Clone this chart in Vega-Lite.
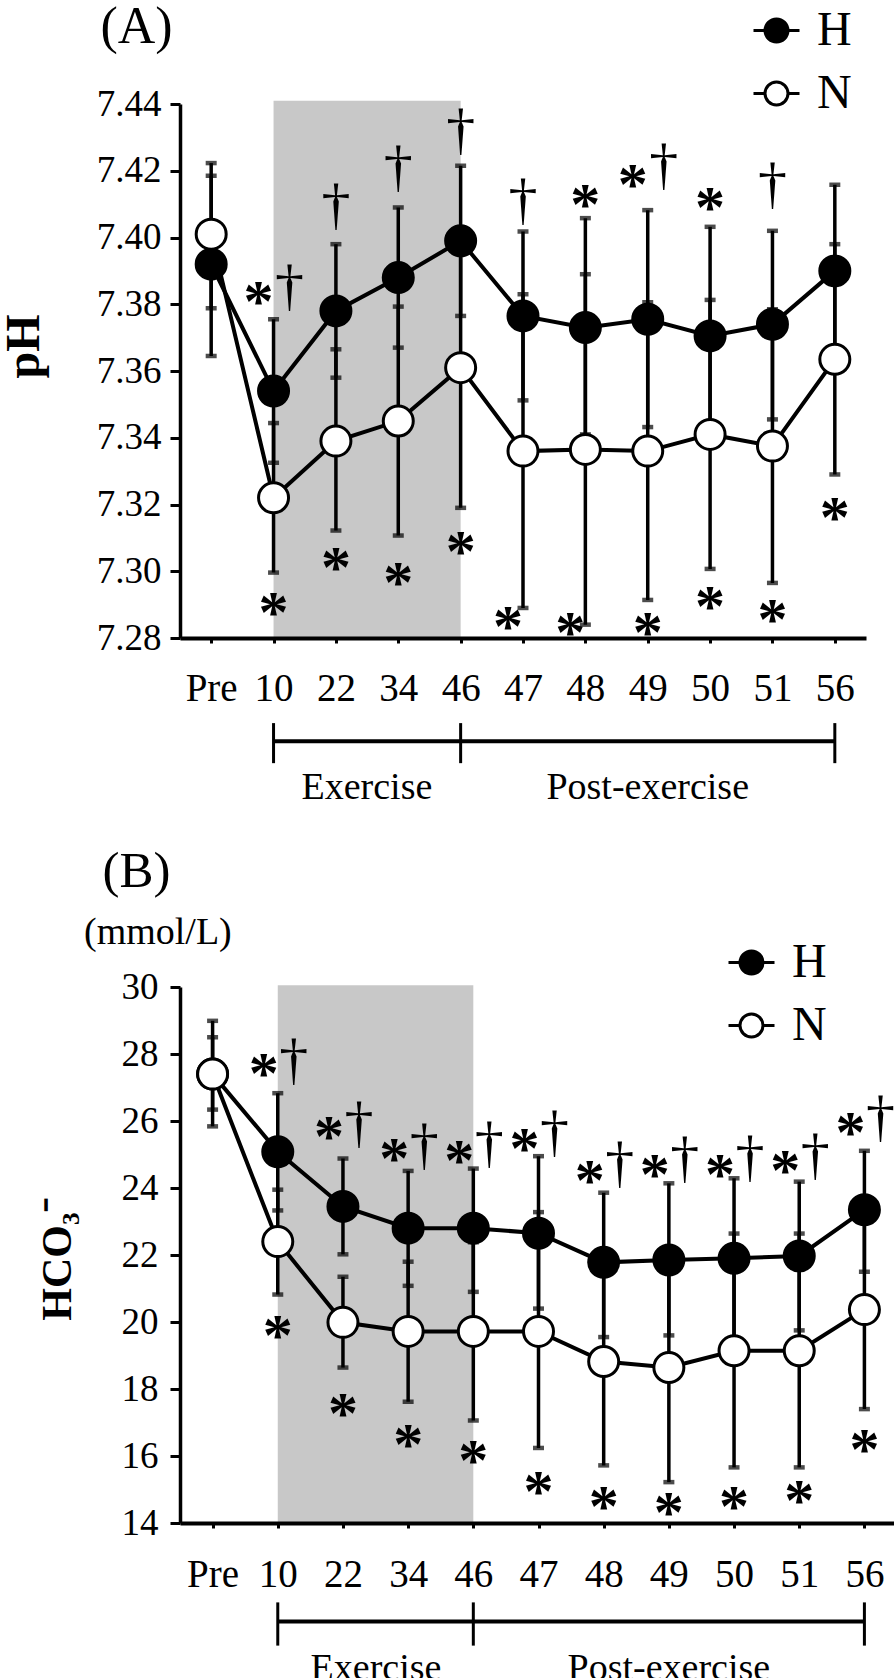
{
  "$schema": "https://vega.github.io/schema/vega-lite/v6.json",
  "padding": {"left": 0, "top": 0, "right": 0, "bottom": 0},
  "bounds": "flush",
  "spacing": 349,
  "config": {
    "view": {"stroke": null},
    "font": "Liberation Serif",
    "axis": {"grid": false, "labelFont": "Liberation Serif", "titleFont": "Liberation Serif", "labelColor": "black", "titleColor": "black", "domainColor": "black", "tickColor": "black"},
    "legend": {"labelFont": "Liberation Serif", "labelColor": "black"}
  },
  "resolve": {"scale": {"x": "independent", "y": "independent", "fill": "independent"}, "legend": {"fill": "independent"}},
  "vconcat": [
    {
      "width": 686,
      "height": 534,
      "layer": [
        {
          "data": {"values": [{"a": "10", "b": "46", "lo": 7.28, "hi": 7.441}]},
          "mark": {"type": "rect", "color": "#c8c8c8"},
          "encoding": {
            "x": {"field": "a", "type": "nominal", "scale": {"type": "point", "padding": 0.5, "domain": ["Pre","10","22","34","46","47","48","49","50","51","56"]},
              "axis": {"title": "(A)", "titleX": -80, "titleY": -596, "titleAlign": "left", "titleBaseline": "alphabetic", "titleFontSize": 52, "titleFontWeight": "normal", "labelAngle": 0, "labelFontSize": 39, "labelPadding": 26, "tickSize": 5, "tickWidth": 3, "domainWidth": 4}},
            "x2": {"field": "b"},
            "y": {"field": "lo", "type": "quantitative", "scale": {"domain": [7.28, 7.44], "nice": false, "zero": false},
              "axis": {"title": "pH", "titleX": -142, "titleY": 242, "titleAngle": -90, "titleAlign": "center", "titleBaseline": "alphabetic", "titleFontSize": 48, "titleFontWeight": "bold", "values": [7.28,7.30,7.32,7.34,7.36,7.38,7.40,7.42,7.44], "format": ".2f", "labelFontSize": 37, "labelPadding": 9, "tickSize": 10, "tickWidth": 3, "domainWidth": 3.5}},
            "y2": {"field": "hi"}
          }
        },
        {
          "data": {"name": "phA"},
          "mark": {"type": "rule", "color": "black", "strokeWidth": 3.5},
          "encoding": {"x": {"field": "t", "type": "nominal"}, "y": {"field": "lo", "type": "quantitative"}, "y2": {"field": "hi"}}
        },
        {
          "data": {"name": "phA"},
          "mark": {"type": "tick", "color": "black", "orient": "horizontal", "size": 11, "thickness": 4.5},
          "encoding": {"x": {"field": "t", "type": "nominal"}, "y": {"field": "lo", "type": "quantitative"}}
        },
        {
          "data": {"name": "phA"},
          "mark": {"type": "tick", "color": "black", "orient": "horizontal", "size": 11, "thickness": 4.5},
          "encoding": {"x": {"field": "t", "type": "nominal"}, "y": {"field": "hi", "type": "quantitative"}}
        },
        {
          "data": {"name": "phA"},
          "mark": {"type": "line", "color": "black", "strokeWidth": 4},
          "encoding": {"x": {"field": "t", "type": "nominal"}, "y": {"field": "m", "type": "quantitative"}, "detail": {"field": "s"}}
        },
        {
          "data": {"name": "phA"},
          "mark": {"type": "point", "shape": "circle", "filled": true, "size": 900, "stroke": "black", "strokeWidth": 3, "opacity": 1},
          "encoding": {
            "x": {"field": "t", "type": "nominal"},
            "y": {"field": "m", "type": "quantitative"},
            "order": {"field": "o"},
            "fill": {"field": "s", "type": "nominal", "scale": {"domain": ["H", "N"], "range": ["black", "white"]},
              "legend": {"title": null, "orient": "none", "legendX": 572, "legendY": -98, "padding": 0, "symbolType": "M-1,0L-0.5,0M0.5,0L1,0M-0.5,0A0.5,0.5,0,1,0,0.5,0A0.5,0.5,0,1,0,-0.5,0Z", "symbolSize": 2116, "symbolStrokeColor": "black", "symbolStrokeWidth": 3, "symbolOpacity": 1, "labelFontSize": 48, "labelOffset": 16, "rowPadding": 14}}
          }
        },
        {
          "data": {"name": "annA"},
          "transform": [{"filter": "datum.k == '*' && datum.p == 'L'"}],
          "mark": {"type": "text", "font": "Liberation Serif", "fontWeight": "bold", "fontSize": 60, "baseline": "alphabetic", "dy": 30, "dx": -15},
          "encoding": {"x": {"field": "t", "type": "nominal"}, "y": {"field": "v", "type": "quantitative"}, "text": {"field": "k"}}
        },
        {
          "data": {"name": "annA"},
          "transform": [{"filter": "datum.k == '*' && datum.p == 'C'"}],
          "mark": {"type": "text", "font": "Liberation Serif", "fontWeight": "bold", "fontSize": 60, "baseline": "alphabetic", "dy": 30},
          "encoding": {"x": {"field": "t", "type": "nominal"}, "y": {"field": "v", "type": "quantitative"}, "text": {"field": "k"}}
        },
        {
          "data": {"name": "annA"},
          "transform": [{"filter": "datum.k == '†' && datum.p == 'R'"}],
          "mark": {"type": "text", "font": "Liberation Serif", "fontSize": 58, "baseline": "alphabetic", "dy": 16, "dx": 16},
          "encoding": {"x": {"field": "t", "type": "nominal"}, "y": {"field": "v", "type": "quantitative"}, "text": {"field": "k"}}
        },
        {
          "data": {"name": "annA"},
          "transform": [{"filter": "datum.k == '†' && datum.p == 'C'"}],
          "mark": {"type": "text", "font": "Liberation Serif", "fontSize": 58, "baseline": "alphabetic", "dy": 16},
          "encoding": {"x": {"field": "t", "type": "nominal"}, "y": {"field": "v", "type": "quantitative"}, "text": {"field": "k"}}
        },
        {
          "data": {"values": [{"a": "10", "b": "56", "y": 7.2491}]},
          "mark": {"type": "rule", "color": "black", "strokeWidth": 4},
          "encoding": {"x": {"field": "a", "type": "nominal"}, "x2": {"field": "b"}, "y": {"field": "y", "type": "quantitative"}}
        },
        {
          "data": {"values": [{"a": "10", "y1": 7.2545, "y2": 7.2425}, {"a": "46", "y1": 7.2545, "y2": 7.2425}, {"a": "56", "y1": 7.2545, "y2": 7.2425}]},
          "mark": {"type": "rule", "color": "black", "strokeWidth": 3},
          "encoding": {"x": {"field": "a", "type": "nominal"}, "y": {"field": "y1", "type": "quantitative"}, "y2": {"field": "y2"}}
        },
        {
          "data": {"values": [{"a": "22", "lab": "Exercise", "y": 7.2318}]},
          "mark": {"type": "text", "fontSize": 38, "baseline": "alphabetic", "dx": 31, "font": "Liberation Serif"},
          "encoding": {"x": {"field": "a", "type": "nominal"}, "y": {"field": "y", "type": "quantitative"}, "text": {"field": "lab"}}
        },
        {
          "data": {"values": [{"a": "49", "lab": "Post-exercise", "y": 7.2318}]},
          "mark": {"type": "text", "fontSize": 38, "baseline": "alphabetic", "font": "Liberation Serif"},
          "encoding": {"x": {"field": "a", "type": "nominal"}, "y": {"field": "y", "type": "quantitative"}, "text": {"field": "lab"}}
        }
      ]
    },
    {
      "width": 717,
      "height": 536,
      "title": {"text": "(mmol/L)", "anchor": "start", "frame": "group", "dx": -96, "dy": 143, "fontSize": 38, "fontWeight": "normal", "font": "Liberation Serif", "offset": 36, "color": "black"},
      "layer": [
        {
          "data": {"values": [{"a": "10", "b": "46", "lo": 14, "hi": 30.05}]},
          "mark": {"type": "rect", "color": "#c8c8c8"},
          "encoding": {
            "x": {"field": "a", "type": "nominal", "scale": {"type": "point", "padding": 0.5, "domain": ["Pre","10","22","34","46","47","48","49","50","51","56"]},
              "axis": {"title": "(B)", "titleX": -78, "titleY": -637, "titleAlign": "left", "titleBaseline": "alphabetic", "titleFontSize": 51, "titleFontWeight": "normal", "labelAngle": 0, "labelFontSize": 39, "labelPadding": 27, "tickSize": 5, "tickWidth": 3, "domainWidth": 4}},
            "x2": {"field": "b"},
            "y": {"field": "lo", "type": "quantitative", "scale": {"domain": [14, 30], "nice": false, "zero": false},
              "axis": {"title": "HCO₃⁻", "titleX": -110, "titleY": 272, "titleAngle": -90, "titleAlign": "center", "titleBaseline": "alphabetic", "titleFontSize": 42, "titleFontWeight": "bold", "values": [14,16,18,20,22,24,26,28,30], "labelFontSize": 37, "labelPadding": 12, "tickSize": 10, "tickWidth": 3, "domainWidth": 3.5}},
            "y2": {"field": "hi"}
          }
        },
        {
          "data": {"name": "hcB"},
          "mark": {"type": "rule", "color": "black", "strokeWidth": 3.5},
          "encoding": {"x": {"field": "t", "type": "nominal"}, "y": {"field": "lo", "type": "quantitative"}, "y2": {"field": "hi"}}
        },
        {
          "data": {"name": "hcB"},
          "mark": {"type": "tick", "color": "black", "orient": "horizontal", "size": 11, "thickness": 4.5},
          "encoding": {"x": {"field": "t", "type": "nominal"}, "y": {"field": "lo", "type": "quantitative"}}
        },
        {
          "data": {"name": "hcB"},
          "mark": {"type": "tick", "color": "black", "orient": "horizontal", "size": 11, "thickness": 4.5},
          "encoding": {"x": {"field": "t", "type": "nominal"}, "y": {"field": "hi", "type": "quantitative"}}
        },
        {
          "data": {"name": "hcB"},
          "mark": {"type": "line", "color": "black", "strokeWidth": 4},
          "encoding": {"x": {"field": "t", "type": "nominal"}, "y": {"field": "m", "type": "quantitative"}, "detail": {"field": "s"}}
        },
        {
          "data": {"name": "hcB"},
          "mark": {"type": "point", "shape": "circle", "filled": true, "size": 900, "stroke": "black", "strokeWidth": 3, "opacity": 1},
          "encoding": {
            "x": {"field": "t", "type": "nominal"},
            "y": {"field": "m", "type": "quantitative"},
            "order": {"field": "o"},
            "fill": {"field": "s", "type": "nominal", "scale": {"domain": ["H", "N"], "range": ["black", "white"]},
              "legend": {"title": null, "orient": "none", "legendX": 547, "legendY": -49, "padding": 0, "symbolType": "M-1,0L-0.5,0M0.5,0L1,0M-0.5,0A0.5,0.5,0,1,0,0.5,0A0.5,0.5,0,1,0,-0.5,0Z", "symbolSize": 2116, "symbolStrokeColor": "black", "symbolStrokeWidth": 3, "symbolOpacity": 1, "labelFontSize": 48, "labelOffset": 16, "rowPadding": 14}}
          }
        },
        {
          "data": {"name": "annB"},
          "transform": [{"filter": "datum.k == '*' && datum.p == 'L'"}],
          "mark": {"type": "text", "font": "Liberation Serif", "fontWeight": "bold", "fontSize": 60, "baseline": "alphabetic", "dy": 30, "dx": -14},
          "encoding": {"x": {"field": "t", "type": "nominal"}, "y": {"field": "v", "type": "quantitative"}, "text": {"field": "k"}}
        },
        {
          "data": {"name": "annB"},
          "transform": [{"filter": "datum.k == '*' && datum.p == 'C'"}],
          "mark": {"type": "text", "font": "Liberation Serif", "fontWeight": "bold", "fontSize": 60, "baseline": "alphabetic", "dy": 30},
          "encoding": {"x": {"field": "t", "type": "nominal"}, "y": {"field": "v", "type": "quantitative"}, "text": {"field": "k"}}
        },
        {
          "data": {"name": "annB"},
          "transform": [{"filter": "datum.k == '†' && datum.p == 'R'"}],
          "mark": {"type": "text", "font": "Liberation Serif", "fontSize": 58, "baseline": "alphabetic", "dy": 16, "dx": 16},
          "encoding": {"x": {"field": "t", "type": "nominal"}, "y": {"field": "v", "type": "quantitative"}, "text": {"field": "k"}}
        },
        {
          "data": {"values": [{"a": "10", "b": "56", "y": 11.06}]},
          "mark": {"type": "rule", "color": "black", "strokeWidth": 4},
          "encoding": {"x": {"field": "a", "type": "nominal"}, "x2": {"field": "b"}, "y": {"field": "y", "type": "quantitative"}}
        },
        {
          "data": {"values": [{"a": "10", "y1": 11.63, "y2": 10.34}, {"a": "46", "y1": 11.63, "y2": 10.34}, {"a": "56", "y1": 11.63, "y2": 10.34}]},
          "mark": {"type": "rule", "color": "black", "strokeWidth": 3},
          "encoding": {"x": {"field": "a", "type": "nominal"}, "y": {"field": "y1", "type": "quantitative"}, "y2": {"field": "y2"}}
        },
        {
          "data": {"values": [{"a": "22", "lab": "Exercise", "y": 9.3}]},
          "mark": {"type": "text", "fontSize": 38, "baseline": "alphabetic", "dx": 33, "font": "Liberation Serif"},
          "encoding": {"x": {"field": "a", "type": "nominal"}, "y": {"field": "y", "type": "quantitative"}, "text": {"field": "lab"}}
        },
        {
          "data": {"values": [{"a": "49", "lab": "Post-exercise", "y": 9.3}]},
          "mark": {"type": "text", "fontSize": 38, "baseline": "alphabetic", "font": "Liberation Serif"},
          "encoding": {"x": {"field": "a", "type": "nominal"}, "y": {"field": "y", "type": "quantitative"}, "text": {"field": "lab"}}
        }
      ]
    }
  ],
  "datasets": {
    "phA": [
      {"t": "Pre", "s": "H", "o": 1, "m": 7.392, "lo": 7.3645, "hi": 7.4185},
      {"t": "10", "s": "H", "o": 1, "m": 7.354, "lo": 7.3325, "hi": 7.3755},
      {"t": "22", "s": "H", "o": 1, "m": 7.378, "lo": 7.358, "hi": 7.398},
      {"t": "34", "s": "H", "o": 1, "m": 7.388, "lo": 7.367, "hi": 7.409},
      {"t": "46", "s": "H", "o": 1, "m": 7.399, "lo": 7.3765, "hi": 7.4215},
      {"t": "47", "s": "H", "o": 1, "m": 7.3765, "lo": 7.3512, "hi": 7.4018},
      {"t": "48", "s": "H", "o": 1, "m": 7.373, "lo": 7.341, "hi": 7.4058},
      {"t": "49", "s": "H", "o": 1, "m": 7.3755, "lo": 7.3432, "hi": 7.4082},
      {"t": "50", "s": "H", "o": 1, "m": 7.3705, "lo": 7.338, "hi": 7.4032},
      {"t": "51", "s": "H", "o": 1, "m": 7.374, "lo": 7.3455, "hi": 7.402},
      {"t": "56", "s": "H", "o": 1, "m": 7.39, "lo": 7.364, "hi": 7.4158},
      {"t": "Pre", "s": "N", "o": 2, "m": 7.401, "lo": 7.3788, "hi": 7.4223},
      {"t": "10", "s": "N", "o": 2, "m": 7.322, "lo": 7.2996, "hi": 7.3444},
      {"t": "22", "s": "N", "o": 2, "m": 7.339, "lo": 7.3122, "hi": 7.3665},
      {"t": "34", "s": "N", "o": 2, "m": 7.345, "lo": 7.3107, "hi": 7.3793},
      {"t": "46", "s": "N", "o": 2, "m": 7.361, "lo": 7.319, "hi": 7.403},
      {"t": "47", "s": "N", "o": 2, "m": 7.336, "lo": 7.289, "hi": 7.383},
      {"t": "48", "s": "N", "o": 2, "m": 7.3365, "lo": 7.284, "hi": 7.389},
      {"t": "49", "s": "N", "o": 2, "m": 7.336, "lo": 7.2914, "hi": 7.3806},
      {"t": "50", "s": "N", "o": 2, "m": 7.341, "lo": 7.3007, "hi": 7.3813},
      {"t": "51", "s": "N", "o": 2, "m": 7.3375, "lo": 7.2965, "hi": 7.3785},
      {"t": "56", "s": "N", "o": 2, "m": 7.3635, "lo": 7.329, "hi": 7.398}
    ],
    "hcB": [
      {"t": "Pre", "s": "H", "o": 1, "m": 27.4, "lo": 25.84, "hi": 28.99},
      {"t": "10", "s": "H", "o": 1, "m": 25.08, "lo": 23.33, "hi": 26.83},
      {"t": "22", "s": "H", "o": 1, "m": 23.45, "lo": 22.02, "hi": 24.88},
      {"t": "34", "s": "H", "o": 1, "m": 22.8, "lo": 21.08, "hi": 24.51},
      {"t": "46", "s": "H", "o": 1, "m": 22.8, "lo": 20.9, "hi": 24.58},
      {"t": "47", "s": "H", "o": 1, "m": 22.65, "lo": 20.4, "hi": 24.95},
      {"t": "48", "s": "H", "o": 1, "m": 21.78, "lo": 19.55, "hi": 23.86},
      {"t": "49", "s": "H", "o": 1, "m": 21.85, "lo": 19.6, "hi": 24.14},
      {"t": "50", "s": "H", "o": 1, "m": 21.9, "lo": 19.5, "hi": 24.29},
      {"t": "51", "s": "H", "o": 1, "m": 21.97, "lo": 19.75, "hi": 24.19},
      {"t": "56", "s": "H", "o": 1, "m": 23.35, "lo": 21.5, "hi": 25.11},
      {"t": "Pre", "s": "N", "o": 2, "m": 27.4, "lo": 26.34, "hi": 28.5},
      {"t": "10", "s": "N", "o": 2, "m": 22.4, "lo": 20.82, "hi": 23.95},
      {"t": "22", "s": "N", "o": 2, "m": 19.99, "lo": 18.64, "hi": 21.35},
      {"t": "34", "s": "N", "o": 2, "m": 19.72, "lo": 17.62, "hi": 21.8},
      {"t": "46", "s": "N", "o": 2, "m": 19.72, "lo": 17.06, "hi": 22.38},
      {"t": "47", "s": "N", "o": 2, "m": 19.72, "lo": 16.24, "hi": 23.28},
      {"t": "48", "s": "N", "o": 2, "m": 18.82, "lo": 15.72, "hi": 21.9},
      {"t": "49", "s": "N", "o": 2, "m": 18.64, "lo": 15.22, "hi": 22.06},
      {"t": "50", "s": "N", "o": 2, "m": 19.14, "lo": 15.66, "hi": 22.64},
      {"t": "51", "s": "N", "o": 2, "m": 19.14, "lo": 15.66, "hi": 22.64},
      {"t": "56", "s": "N", "o": 2, "m": 20.37, "lo": 17.4, "hi": 23.35}
    ],
    "annA": [
      {"t": "10", "k": "*", "p": "L", "v": 7.384},
      {"t": "10", "k": "†", "p": "R", "v": 7.385},
      {"t": "22", "k": "†", "p": "C", "v": 7.409},
      {"t": "34", "k": "†", "p": "C", "v": 7.4205},
      {"t": "46", "k": "†", "p": "C", "v": 7.4315},
      {"t": "47", "k": "†", "p": "C", "v": 7.4105},
      {"t": "48", "k": "*", "p": "C", "v": 7.413},
      {"t": "49", "k": "*", "p": "L", "v": 7.419},
      {"t": "49", "k": "†", "p": "R", "v": 7.421},
      {"t": "50", "k": "*", "p": "C", "v": 7.412},
      {"t": "51", "k": "†", "p": "C", "v": 7.4155},
      {"t": "10", "k": "*", "p": "C", "v": 7.2907},
      {"t": "22", "k": "*", "p": "C", "v": 7.3042},
      {"t": "34", "k": "*", "p": "C", "v": 7.2997},
      {"t": "46", "k": "*", "p": "C", "v": 7.3092},
      {"t": "47", "k": "*", "p": "L", "v": 7.2867},
      {"t": "48", "k": "*", "p": "L", "v": 7.2847},
      {"t": "49", "k": "*", "p": "C", "v": 7.2847},
      {"t": "50", "k": "*", "p": "C", "v": 7.2927},
      {"t": "51", "k": "*", "p": "C", "v": 7.2887},
      {"t": "56", "k": "*", "p": "C", "v": 7.3192}
    ],
    "annB": [
      {"t": "10", "k": "*", "p": "L", "v": 27.72},
      {"t": "10", "k": "†", "p": "R", "v": 27.75},
      {"t": "22", "k": "*", "p": "L", "v": 25.84},
      {"t": "22", "k": "†", "p": "R", "v": 25.87},
      {"t": "34", "k": "*", "p": "L", "v": 25.18},
      {"t": "34", "k": "†", "p": "R", "v": 25.23},
      {"t": "46", "k": "*", "p": "L", "v": 25.13},
      {"t": "46", "k": "†", "p": "R", "v": 25.28},
      {"t": "47", "k": "*", "p": "L", "v": 25.48},
      {"t": "47", "k": "†", "p": "R", "v": 25.62},
      {"t": "48", "k": "*", "p": "L", "v": 24.53},
      {"t": "48", "k": "†", "p": "R", "v": 24.68},
      {"t": "49", "k": "*", "p": "L", "v": 24.73},
      {"t": "49", "k": "†", "p": "R", "v": 24.83},
      {"t": "50", "k": "*", "p": "L", "v": 24.73},
      {"t": "50", "k": "†", "p": "R", "v": 24.88},
      {"t": "51", "k": "*", "p": "L", "v": 24.85},
      {"t": "51", "k": "†", "p": "R", "v": 24.93},
      {"t": "56", "k": "*", "p": "L", "v": 25.97},
      {"t": "56", "k": "†", "p": "R", "v": 26.07},
      {"t": "10", "k": "*", "p": "C", "v": 19.92},
      {"t": "22", "k": "*", "p": "C", "v": 17.57},
      {"t": "34", "k": "*", "p": "C", "v": 16.67},
      {"t": "46", "k": "*", "p": "C", "v": 16.17},
      {"t": "47", "k": "*", "p": "C", "v": 15.24},
      {"t": "48", "k": "*", "p": "C", "v": 14.82},
      {"t": "49", "k": "*", "p": "C", "v": 14.64},
      {"t": "50", "k": "*", "p": "C", "v": 14.82},
      {"t": "51", "k": "*", "p": "C", "v": 15.0},
      {"t": "56", "k": "*", "p": "C", "v": 16.52}
    ]
  }
}
